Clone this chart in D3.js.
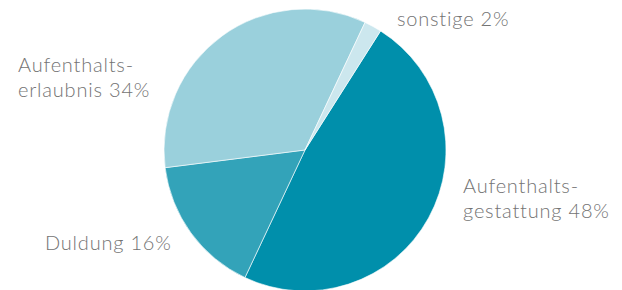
<!DOCTYPE html>
<html lang="de">
<head>
<meta charset="UTF-8">
<title>Aufenthaltsstatus</title>
<script src="https://d3js.org/d3.v7.min.js"></script>
<style>
  body { margin: 0; background: #fff; }
  text { font-family: Lato, "Open Sans", sans-serif; font-weight: 300; fill: #737373; }
</style>
</head>
<body>
<script>
  // data
  const categories = ["Aufenthaltsgestattung", "Duldung", "Aufenthaltserlaubnis", "sonstige"];
  const shares = [48, 16, 34, 2];
  const labelLines = [["Aufenthalts-", "gestattung 48%"], ["Duldung 16%"], ["Aufenthalts-", "erlaubnis 34%"], ["sonstige 2%"]];
  const colors = ["#008fab", "#33a3b9", "#9ad0dc", "#cce7ee"];

  const width = 622, height = 290;
  const cx = 305, cy = 150, radius = 141;

  // label anchors (left end of first baseline)
  const labelAnchor = [[463, 193], [45, 250], [18, 72], [397, 26]];

  const svg = d3.select("body").append("svg")
    .attr("width", width)
    .attr("height", height);

  const pie = d3.pie()
    .sort(null)
    .value(d => d)
    .startAngle(32.4 * Math.PI / 180)
    .endAngle(32.4 * Math.PI / 180 + 2 * Math.PI);

  const arc = d3.arc().innerRadius(0).outerRadius(radius);

  const g = svg.append("g").attr("transform", "translate(" + cx + "," + cy + ")");

  g.selectAll("path")
    .data(pie(shares))
    .enter().append("path")
    .attr("d", arc)
    .attr("fill", (d, i) => colors[i])
    .attr("stroke", "#ffffff")
    .attr("stroke-width", 0.6);

  // labels
  const labels = svg.selectAll("text.lbl")
    .data(categories)
    .enter().append("text")
    .attr("class", "lbl")
    .attr("x", (d, i) => labelAnchor[i][0])
    .attr("y", (d, i) => labelAnchor[i][1])
    .style("font-size", "20px")
    .style("letter-spacing", "0.8px");

  labels.each(function (d, i) {
    d3.select(this).selectAll("tspan")
      .data(labelLines[i])
      .enter().append("tspan")
      .attr("x", labelAnchor[i][0])
      .attr("dy", (t, j) => j === 0 ? 0 : 25)
      .text(t => t);
  });
</script>
</body>
</html>
